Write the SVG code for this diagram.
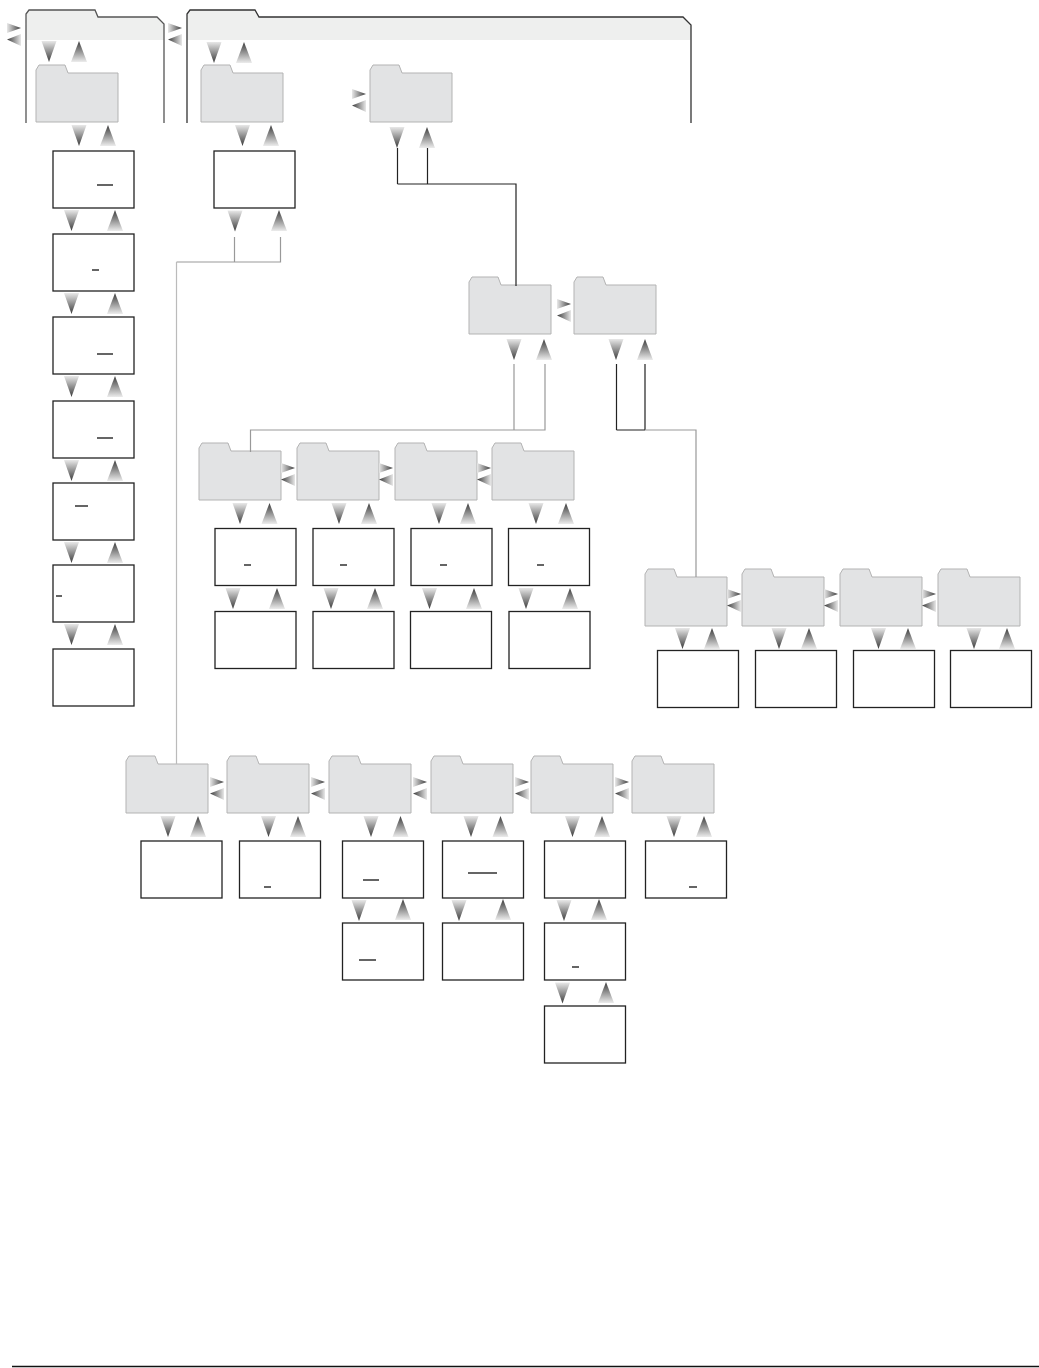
<svg xmlns="http://www.w3.org/2000/svg" xmlns:xlink="http://www.w3.org/1999/xlink" width="1039" height="1368" viewBox="0 0 1039 1368">
<style>
.fold{fill:#e2e3e4;stroke:#b3b3b3;stroke-width:1}
.box{fill:#fff;stroke:#222;stroke-width:1.3}
.band{fill:#eeefee;stroke:none}
.frame{fill:none;stroke:#333;stroke-width:1.3}
.ul{stroke:#111;stroke-width:1.3}
.dk{fill:none;stroke:#222;stroke-width:1.2}
.gy{fill:none;stroke:#999;stroke-width:1.2}
.lg{fill:none;stroke:#bbb;stroke-width:1.2}
</style>
<defs>
<linearGradient id="gD" x1="0" y1="0" x2="0" y2="1"><stop offset="0" stop-color="#e8e8e8"/><stop offset="1" stop-color="#3a3a3a"/></linearGradient>
<linearGradient id="gU" x1="0" y1="1" x2="0" y2="0"><stop offset="0" stop-color="#ececec"/><stop offset="1" stop-color="#3a3a3a"/></linearGradient>
<linearGradient id="gR" x1="0" y1="0" x2="1" y2="0"><stop offset="0" stop-color="#e8e8e8"/><stop offset="1" stop-color="#3a3a3a"/></linearGradient>
<linearGradient id="gL" x1="1" y1="0" x2="0" y2="0"><stop offset="0" stop-color="#e8e8e8"/><stop offset="1" stop-color="#3a3a3a"/></linearGradient>
<path id="fd" class="fold" d="M0,57 V5 L3,0 H29 L32,8 H82 V57 Z"/>
<rect id="bx" class="box" width="81" height="57"/>
<path id="ad" d="M-7.5,0 H7.5 L0,21 Z" fill="url(#gD)"/>
<path id="au" d="M0,0 L8,21 H-8 Z" fill="url(#gU)"/>
<g id="lr"><path d="M0,0 L14,5 L0,10 Z" fill="url(#gR)"/><path d="M14,11 V23 L0,16.5 Z" fill="url(#gL)"/></g>
</defs>
<rect width="1039" height="1368" fill="#fff"/>

<g id="group-left">
<path class="band" d="M26,40 V14 L29,10 H95 L98,17 H157 L164,24 V40 Z"/>
<path class="frame" d="M26,123 V14 L29,10 H95 L98,17 H157 L164,24 V123" style="stroke:#555"/>
</g>
<g id="group-right">
<path class="band" d="M187,40 V14 L190,10 H255 L259,17 H683 L691,25 V40 Z"/>
<path class="frame" d="M187,123 V14 L190,10 H255 L259,17 H683 L691,25 V123"/>
</g>

<g id="folder-1"><use href="#fd" x="36" y="65"/></g>
<g id="folder-2"><use href="#fd" x="201" y="65"/></g>
<g id="folder-3"><use href="#fd" x="370" y="65"/></g>
<g id="folder-A"><use href="#fd" x="469" y="277"/></g>
<g id="folder-B"><use href="#fd" x="574" y="277"/></g>
<g id="folder-F1"><use href="#fd" x="199" y="443"/></g>
<g id="folder-F2"><use href="#fd" x="297" y="443"/></g>
<g id="folder-F3"><use href="#fd" x="395" y="443"/></g>
<g id="folder-F4"><use href="#fd" x="492" y="443"/></g>
<g id="folder-G1"><use href="#fd" x="645" y="569"/></g>
<g id="folder-G2"><use href="#fd" x="742" y="569"/></g>
<g id="folder-G3"><use href="#fd" x="840" y="569"/></g>
<g id="folder-G4"><use href="#fd" x="938" y="569"/></g>
<g id="folder-K1"><use href="#fd" x="126" y="756"/></g>
<g id="folder-K2"><use href="#fd" x="227" y="756"/></g>
<g id="folder-K3"><use href="#fd" x="329" y="756"/></g>
<g id="folder-K4"><use href="#fd" x="431" y="756"/></g>
<g id="folder-K5"><use href="#fd" x="531" y="756"/></g>
<g id="folder-K6"><use href="#fd" x="632" y="756"/></g>

<g id="box-L1"><use href="#bx" x="53" y="151"/><line class="ul" x1="97" y1="185" x2="113" y2="185"/></g>
<g id="box-L2"><use href="#bx" x="53" y="234"/><line class="ul" x1="92" y1="270" x2="99" y2="270"/></g>
<g id="box-L3"><use href="#bx" x="53" y="317"/><line class="ul" x1="97" y1="354" x2="113" y2="354"/></g>
<g id="box-L4"><use href="#bx" x="53" y="401"/><line class="ul" x1="97" y1="438" x2="113" y2="438"/></g>
<g id="box-L5"><use href="#bx" x="53" y="483"/><line class="ul" x1="75" y1="506" x2="88" y2="506"/></g>
<g id="box-L6"><use href="#bx" x="53" y="565"/><line class="ul" x1="56" y1="596" x2="62" y2="596"/></g>
<g id="box-L7"><use href="#bx" x="53" y="649"/></g>
<g id="box-2"><use href="#bx" x="214" y="151"/></g>

<g id="box-B1"><use href="#bx" x="215" y="528.5"/><line class="ul" x1="244" y1="565" x2="251" y2="565"/></g>
<g id="box-B2"><use href="#bx" x="313" y="528.5"/><line class="ul" x1="340" y1="565" x2="347" y2="565"/></g>
<g id="box-B3"><use href="#bx" x="411" y="528.5"/><line class="ul" x1="440" y1="565" x2="447" y2="565"/></g>
<g id="box-B4"><use href="#bx" x="508.5" y="528.5"/><line class="ul" x1="537" y1="565" x2="544" y2="565"/></g>
<g id="box-C1"><use href="#bx" x="215" y="611.5"/></g>
<g id="box-C2"><use href="#bx" x="313" y="611.5"/></g>
<g id="box-C3"><use href="#bx" x="410.5" y="611.5"/></g>
<g id="box-C4"><use href="#bx" x="509" y="611.5"/></g>

<g id="box-H1"><use href="#bx" x="657.5" y="650.5"/></g>
<g id="box-H2"><use href="#bx" x="755.5" y="650.5"/></g>
<g id="box-H3"><use href="#bx" x="853.5" y="650.5"/></g>
<g id="box-H4"><use href="#bx" x="950.5" y="650.5"/></g>

<g id="box-M1"><use href="#bx" x="141" y="841"/></g>
<g id="box-M2"><use href="#bx" x="239.5" y="841"/><line class="ul" x1="264" y1="887" x2="271" y2="887"/></g>
<g id="box-M3"><use href="#bx" x="342.5" y="841"/><line class="ul" x1="363" y1="880" x2="379" y2="880"/></g>
<g id="box-M4"><use href="#bx" x="442.5" y="841"/><line class="ul" x1="468" y1="873" x2="497" y2="873"/></g>
<g id="box-M5"><use href="#bx" x="544.5" y="841"/></g>
<g id="box-M6"><use href="#bx" x="645.5" y="841"/><line class="ul" x1="689" y1="887" x2="697" y2="887"/></g>
<g id="box-N3"><use href="#bx" x="342.5" y="923"/><line class="ul" x1="359" y1="960" x2="376" y2="960"/></g>
<g id="box-N4"><use href="#bx" x="442.5" y="923"/></g>
<g id="box-N5"><use href="#bx" x="544.5" y="923"/><line class="ul" x1="572" y1="967" x2="579" y2="967"/></g>
<g id="box-P5"><use href="#bx" x="544.5" y="1006"/></g>

<g id="connectors">
<!-- side arrow pairs -->
<use href="#lr" x="7" y="23"/>
<use href="#lr" x="168" y="23"/>
<use href="#lr" x="352" y="89"/>
<use href="#lr" x="557" y="299"/>
<use href="#lr" x="281" y="463"/>
<use href="#lr" x="379" y="463"/>
<use href="#lr" x="477" y="463"/>
<use href="#lr" x="727" y="589"/>
<use href="#lr" x="824" y="589"/>
<use href="#lr" x="922" y="589"/>
<use href="#lr" x="210" y="777"/>
<use href="#lr" x="311" y="777"/>
<use href="#lr" x="413" y="777"/>
<use href="#lr" x="515" y="777"/>
<use href="#lr" x="615" y="777"/>

<!-- vertical arrow pairs -->
<use href="#ad" x="49" y="41"/><use href="#au" x="79" y="41"/>
<use href="#ad" x="214" y="42"/><use href="#au" x="244" y="42"/>
<use href="#ad" x="79" y="125"/><use href="#au" x="108" y="125"/>
<use href="#ad" x="71.5" y="210"/><use href="#au" x="115" y="210"/>
<use href="#ad" x="71.5" y="293"/><use href="#au" x="115" y="293"/>
<use href="#ad" x="71.5" y="376"/><use href="#au" x="115" y="376"/>
<use href="#ad" x="71.5" y="460"/><use href="#au" x="115" y="460"/>
<use href="#ad" x="71.5" y="542"/><use href="#au" x="115" y="542"/>
<use href="#ad" x="71.5" y="624"/><use href="#au" x="115" y="624"/>
<use href="#ad" x="242.5" y="125"/><use href="#au" x="271" y="125"/>
<use href="#ad" x="235" y="210.5"/><use href="#au" x="279" y="210"/>
<use href="#ad" x="397" y="127"/><use href="#au" x="427" y="127"/>
<use href="#ad" x="514" y="339"/><use href="#au" x="544" y="339"/>
<use href="#ad" x="616" y="339"/><use href="#au" x="645" y="339"/>
<use href="#ad" x="240" y="503"/><use href="#au" x="269.5" y="503"/>
<use href="#ad" x="339" y="503"/><use href="#au" x="369" y="503"/>
<use href="#ad" x="439" y="503"/><use href="#au" x="468" y="503"/>
<use href="#ad" x="536" y="503"/><use href="#au" x="566" y="503"/>
<use href="#ad" x="233" y="588"/><use href="#au" x="277" y="588"/>
<use href="#ad" x="331" y="588"/><use href="#au" x="375" y="588"/>
<use href="#ad" x="429.5" y="588"/><use href="#au" x="474" y="588"/>
<use href="#ad" x="526" y="588"/><use href="#au" x="570" y="588"/>
<use href="#ad" x="682.5" y="628"/><use href="#au" x="712" y="628"/>
<use href="#ad" x="779" y="628"/><use href="#au" x="809" y="628"/>
<use href="#ad" x="878.5" y="628"/><use href="#au" x="908" y="628"/>
<use href="#ad" x="974" y="628"/><use href="#au" x="1007" y="628"/>
<use href="#ad" x="168" y="816"/><use href="#au" x="198" y="816"/>
<use href="#ad" x="268.5" y="816"/><use href="#au" x="298" y="816"/>
<use href="#ad" x="371" y="816"/><use href="#au" x="400.5" y="816"/>
<use href="#ad" x="471" y="816"/><use href="#au" x="500.5" y="816"/>
<use href="#ad" x="572.5" y="816"/><use href="#au" x="602" y="816"/>
<use href="#ad" x="674" y="816"/><use href="#au" x="704" y="816"/>
<use href="#ad" x="359" y="900"/><use href="#au" x="403" y="899"/>
<use href="#ad" x="459" y="900"/><use href="#au" x="503" y="899"/>
<use href="#ad" x="564" y="900"/><use href="#au" x="599" y="899"/>
<use href="#ad" x="562.5" y="982.5"/><use href="#au" x="606" y="982"/>

<!-- lines -->
<path class="gy" d="M234.5,237 V262 M280.5,237 V262 H176.5"/>
<path class="lg" d="M176.5,262 V764"/>
<path class="dk" d="M397.5,148 V184 M427.5,148 V184 M397.5,184 H516 V286"/>
<path class="gy" d="M514,364 V430 M545,364 V430 H250.5 V452"/>
<path class="dk" d="M616.5,364 V430 M645,364 V430 M616.5,430 H645"/>
<path class="gy" d="M645,430 H696 V577"/>
</g>

<line x1="12" y1="1366.5" x2="1039" y2="1366.5" stroke="#111" stroke-width="1.5"/>
</svg>
